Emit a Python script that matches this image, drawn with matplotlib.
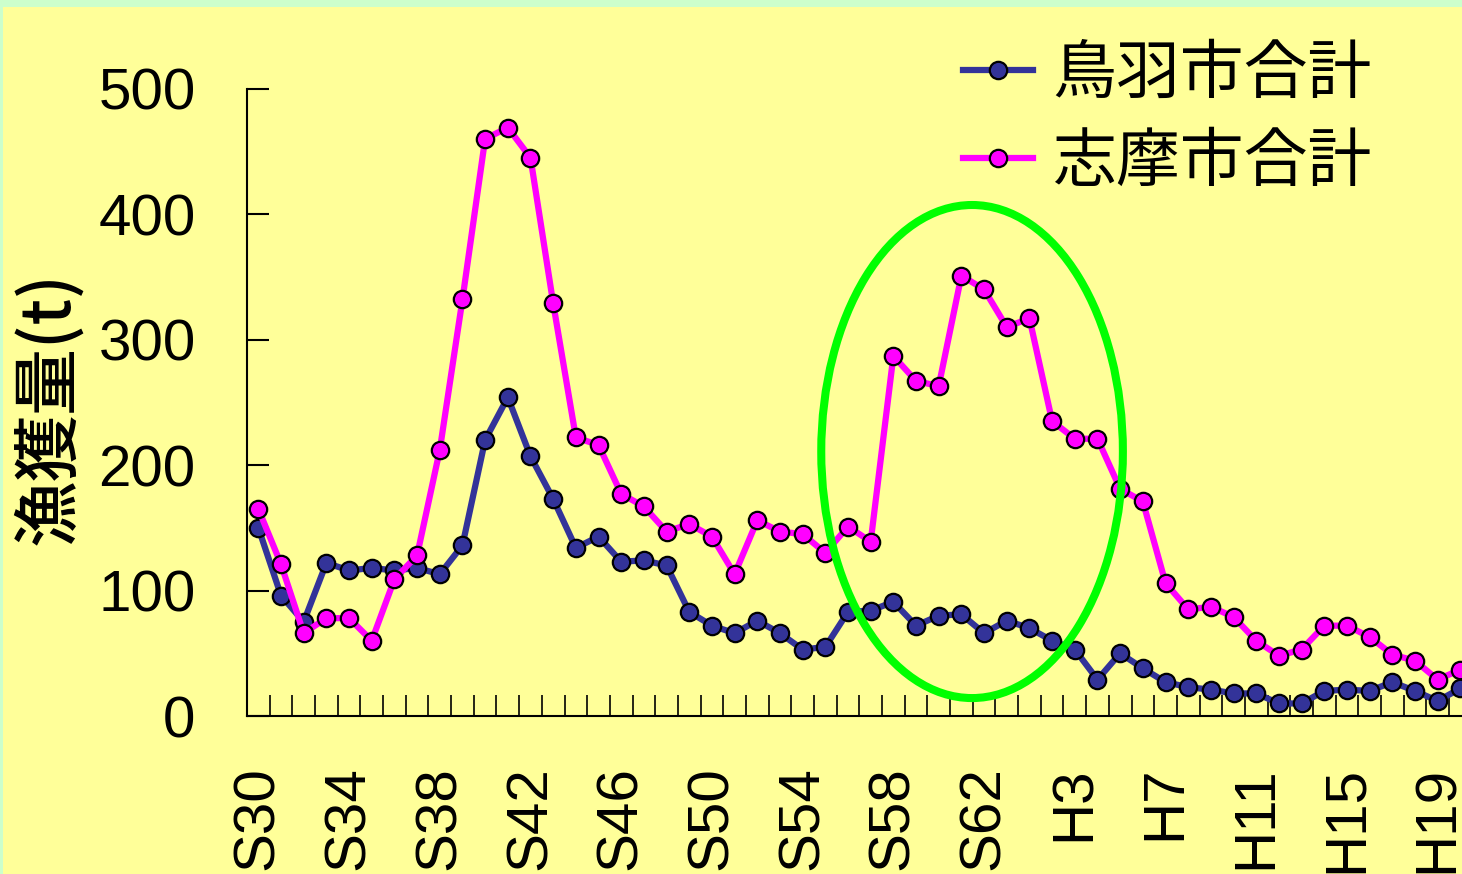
import numpy as np
import matplotlib
matplotlib.use('Agg')
import matplotlib.pyplot as plt
from matplotlib.patches import Ellipse, Rectangle

plt.rcParams['font.family'] = ['Liberation Sans', 'Noto Sans CJK JP', 'DejaVu Sans']

# 年度 S30 - H20
years = ['S%d' % y for y in range(30, 64)] + ['H%d' % y for y in range(1, 21)]
label_years = years[::4]

# 漁獲量 (t)
toba = [150, 96, 75, 122, 116, 118, 116, 118, 113, 136,
        220, 254, 207, 173, 134, 143, 123, 124, 120, 83,
        72, 66, 76, 66, 53, 55, 83, 84, 91, 72,
        80, 81, 66, 76, 70, 60, 53, 29, 50, 38,
        27, 23, 21, 18, 18, 10, 10, 20, 21, 20,
        27, 20, 12, 22]
shima = [165, 121, 66, 78, 78, 60, 109, 128, 212, 332,
         460, 469, 445, 329, 222, 216, 177, 167, 147, 153,
         143, 113, 156, 147, 145, 130, 151, 139, 287, 267,
         263, 351, 340, 310, 317, 235, 221, 221, 181, 171,
         106, 85, 87, 79, 60, 48, 53, 72, 72, 63,
         49, 44, 29, 37]

# highlighted period (S58 - H4)
ring_center = (31.47, 210.8)
ring_w, ring_h = 13.3, 393

W, H = 1462, 874
fig = plt.figure(figsize=(W / 100, H / 100), dpi=100, facecolor='#CCFFCC')
fig.patches.append(Rectangle((3 / W, 0), 1, 1 - 7 / H, transform=fig.transFigure,
                             facecolor='#FFFF99', edgecolor='none', zorder=-10))

ax = fig.add_axes([247 / W, 158 / H, 1224.7 / W, 627.3 / H])
ax.set_facecolor('none')

x = np.arange(len(years))
ax.plot(x, toba, color='#333399', lw=4.5, marker='o', ms=12.5, mfc='#333399',
        mec='black', mew=1.6, label='鳥羽市合計')
ax.plot(x, shima, color='#FF00FF', lw=4.5, marker='o', ms=12.5, mfc='#FF00FF',
        mec='black', mew=1.6, label='志摩市合計')

ax.add_patch(Ellipse(ring_center, ring_w, ring_h, fill=False,
                     edgecolor='#00FF00', lw=5.8, zorder=5))

ax.set_xlim(-0.5, len(years) - 0.5)
ax.set_ylim(0, 500)

for s in ['top', 'right']:
    ax.spines[s].set_visible(False)
for s in ['left', 'bottom']:
    ax.spines[s].set_linewidth(1.5)

ax.set_yticks(range(0, 501, 100))
ax.tick_params(axis='y', direction='in', length=16, width=1.5, pad=37, labelsize=42)

ax.set_xticks(x[::4])
ax.set_xticklabels(label_years, rotation=90, ha='center', va='top')
ax.set_xticks(np.arange(0.5, len(years) - 1, 1), minor=True)
ax.tick_params(axis='x', which='major', length=0, pad=36, labelsize=42)
ax.tick_params(axis='x', which='minor', direction='in', length=15, width=1.2)

fig.text(48 / W, 1 - 408 / H, '漁獲量(t)', rotation=90, ha='center', va='center',
         fontsize=48, weight='medium', family=['Noto Sans CJK JP'])

ax.legend(loc='upper left', bbox_to_anchor=(963 / W, 1 - 41 / H),
          bbox_transform=fig.transFigure, frameon=False,
          prop={'family': 'Noto Sans CJK JP', 'size': 46},
          handlelength=1.1, handletextpad=0.3, labelspacing=0.34,
          borderpad=0, borderaxespad=0)

fig.savefig('out.png', dpi=100, facecolor=fig.get_facecolor())
